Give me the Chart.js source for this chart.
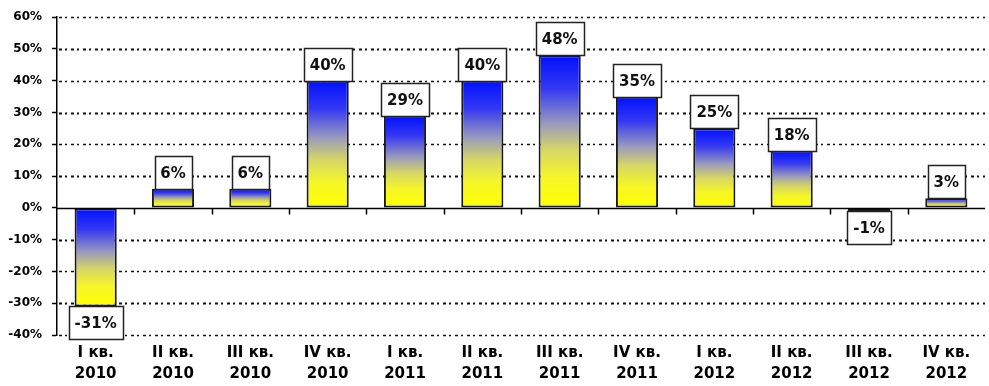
<!DOCTYPE html>
<html>
<head>
<meta charset="utf-8">
<script src="https://cdn.jsdelivr.net/npm/chart.js@4/dist/chart.umd.min.js"></script>
<style>
  html, body { margin:0; padding:0; background:#fff; }
</style>
</head>
<body>
<canvas id="chGrowth" width="989" height="386"></canvas>
<script>
// данные
const quarters = ['I кв.','II кв.','III кв.','IV кв.','I кв.','II кв.','III кв.','IV кв.','I кв.','II кв.','III кв.','IV кв.'];
const years    = ['2010','2010','2010','2010','2011','2011','2011','2011','2012','2012','2012','2012'];
const growth   = [-31, 6, 6, 40, 29, 40, 48, 35, 25, 18, -1, 3];
const yMin = -40, yMax = 60, yStep = 10;

(function(){
  const FONT = '"DejaVu Sans", sans-serif';

  // вертикальный градиент: синий сверху, желтый снизу (для каждого столбца)
  function barFill(c){
    const chart = c.chart, y = chart.scales.y;
    if(!y || c.type !== 'data') return '#3030ff';
    const v = growth[c.dataIndex];
    const top = y.getPixelForValue(Math.max(v, 0));
    const bot = y.getPixelForValue(Math.min(v, 0));
    if(!isFinite(top) || !isFinite(bot) || bot - top < 1) return '#6a6aa8';
    const g = chart.ctx.createLinearGradient(0, top, 0, bot);
    g.addColorStop(0,    '#0010ff');
    g.addColorStop(0.22, '#3438f4');
    g.addColorStop(0.45, '#9a9ac0');
    g.addColorStop(0.62, '#d6d66a');
    g.addColorStop(0.8,  '#f6f62a');
    g.addColorStop(1,    '#ffff00');
    return g;
  }

  // пунктирная сетка (штрих-точка)
  const dashGrid = {
    id:'dashGrid',
    beforeDatasetsDraw(chart){
      const {ctx, chartArea:a, scales:{y}} = chart;
      ctx.save();
      ctx.strokeStyle = '#111';
      ctx.setLineDash([3,3,2,4]);
      y.ticks.forEach(t=>{
        if(t.value === 0) return;
        const py = Math.round(y.getPixelForValue(t.value)) + 0.5;
        ctx.lineWidth = (t.value / yStep) % 2 ? 2 : 1.5;
        ctx.beginPath();
        ctx.moveTo(a.left + 2, py); ctx.lineTo(a.right, py);
        ctx.stroke();
      });
      ctx.restore();
    }
  };

  // нулевая линия + засечки категорий
  const zeroAxis = {
    id:'zeroAxis',
    afterDatasetsDraw(chart){
      const {ctx, chartArea:a, scales:{y}} = chart;
      const y0 = Math.round(y.getPixelForValue(0)) + 0.5;
      ctx.save();
      ctx.strokeStyle = '#000';
      ctx.lineWidth = 1.5;
      ctx.beginPath();
      ctx.moveTo(a.left, y0); ctx.lineTo(a.right, y0);
      const step = (a.right - a.left) / quarters.length;
      for(let i = 1; i < quarters.length; i++){
        const px = Math.round(a.left + i*step) + 0.5;
        ctx.moveTo(px, y0); ctx.lineTo(px, y0 + 6);
      }
      ctx.stroke();
      ctx.restore();
    }
  };

  // подписи значений в рамках
  const boxLabels = {
    id:'boxLabels',
    afterDatasetsDraw(chart){
      const {ctx} = chart;
      const meta = chart.getDatasetMeta(0);
      ctx.save();
      ctx.font = 'bold 15px ' + FONT;
      ctx.textAlign = 'center';
      ctx.textBaseline = 'middle';
      meta.data.forEach((bar, i)=>{
        const v = growth[i];
        const txt = v + '%';
        const w = Math.round(ctx.measureText(txt).width + 12), h = 33;
        const bx = Math.round(bar.x - w/2) + 0.5;
        const by = Math.round(v >= 0 ? bar.y - h : bar.y) + 0.5;
        ctx.fillStyle = '#fff';
        ctx.fillRect(bx, by, w, h);
        ctx.strokeStyle = '#222';
        ctx.lineWidth = 1.5;
        ctx.strokeRect(bx, by, w, h);
        ctx.fillStyle = '#111';
        ctx.fillText(txt, bar.x, by + h/2 + 1);
      });
      ctx.restore();
    }
  };

  new Chart(document.getElementById('chGrowth'), {
    type:'bar',
    data:{
      labels: quarters.map((q, i)=>[q, years[i]]),
      datasets:[{
        data: growth,
        backgroundColor: barFill,
        borderColor:'#1a1a1a',
        borderWidth:2,
        borderSkipped:false,
        barPercentage:0.545,
        categoryPercentage:1
      }]
    },
    options:{
      responsive:false,
      animation:false,
      devicePixelRatio:1,
      layout:{ padding:{ top:15, right:4, left:0, bottom:0 } },
      plugins:{ legend:{ display:false }, tooltip:{ enabled:false } },
      scales:{
        x:{
          afterFit: s => { s.height = 51; },
          grid:{ display:false, drawTicks:false },
          border:{ display:false },
          ticks:{
            color:'#000', padding:8, maxRotation:0, autoSkip:false,
            font:{ family:FONT, size:15, weight:'bold', lineHeight:1.38 }
          }
        },
        y:{
          min:yMin, max:yMax,
          afterFit: s => { s.width = 57; },
          grid:{
            drawOnChartArea:false,
            tickColor:'#000',
            tickLength:5,
            tickWidth:1.5
          },
          border:{ display:true, color:'#000', width:1.5 },
          ticks:{
            stepSize:yStep, padding:10, color:'#000',
            font:{ family:FONT, size:12, weight:'bold' },
            callback: v => v + '%'
          }
        }
      }
    },
    plugins:[dashGrid, zeroAxis, boxLabels]
  });
})();
</script>
</body>
</html>
